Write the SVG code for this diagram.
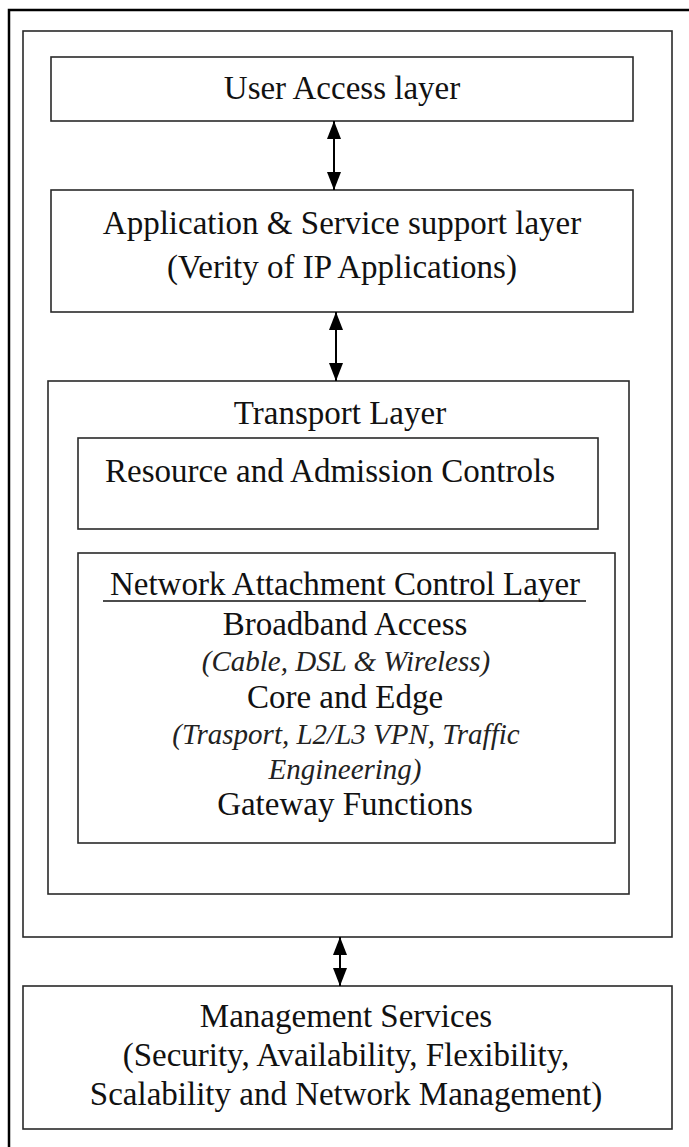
<svg xmlns="http://www.w3.org/2000/svg" width="689" height="1147" viewBox="0 0 689 1147">
<style>
.box{fill:none;stroke:#2a2a2a;stroke-width:1.6}
text{font-family:'Liberation Serif','DejaVu Serif',serif}
.t{font-size:33px;fill:#111;text-anchor:middle}
.i{font-size:29px;font-style:italic;fill:#222;text-anchor:middle}
.ln{stroke:#000;stroke-width:2}
</style>
<defs>
<marker id="ah" viewBox="0 0 10 10" refX="10" refY="5" markerWidth="18" markerHeight="14" markerUnits="userSpaceOnUse" orient="auto-start-reverse" preserveAspectRatio="none">
<path d="M0,0 L10,5 L0,10 Z" fill="#000"/>
</marker>
</defs>
<rect width="689" height="1147" fill="#fff"/>
<path d="M9,1147 V10 H689" fill="none" stroke="#000" stroke-width="2.5"/>
<g id="container"><rect class="box" x="23" y="31" width="649" height="906"/></g>
<g id="user-access">
<rect class="box" x="51" y="57" width="582" height="64"/>
<text class="t" x="342" y="99" font-family="Liberation Serif, serif">User Access layer</text>
</g>
<g id="app-service">
<rect class="box" x="51" y="190" width="582" height="122"/>
<text class="t" x="342" y="234">Application &amp; Service support layer</text>
<text class="t" x="342" y="278">(Verity of IP Applications)</text>
</g>
<g id="transport">
<rect class="box" x="48" y="381" width="581" height="513"/>
<text class="t" x="340" y="424">Transport Layer</text>
</g>
<g id="resource">
<rect class="box" x="78" y="438" width="520" height="91"/>
<text class="t" x="330" y="482">Resource and Admission Controls</text>
</g>
<g id="nacl">
<rect class="box" x="78" y="553" width="537" height="290"/>
<text class="t" x="345" y="595">Network Attachment Control Layer</text>
<line x1="103" y1="601" x2="586" y2="601" stroke="#111" stroke-width="1.5"/>
<text class="t" x="345" y="635">Broadband Access</text>
<text class="i" x="346" y="671">(Cable, DSL &amp; Wireless)</text>
<text class="t" x="345" y="708">Core and Edge</text>
<text class="i" x="346" y="744">(Trasport, L2/L3 VPN, Traffic</text>
<text class="i" x="345" y="779">Engineering)</text>
<text class="t" x="345" y="815">Gateway Functions</text>
</g>
<g id="management">
<rect class="box" x="23" y="986" width="649" height="143"/>
<text class="t" x="346" y="1027">Management Services</text>
<text class="t" x="346" y="1066">(Security, Availability, Flexibility,</text>
<text class="t" x="346" y="1105">Scalability and Network Management)</text>
</g>
<g id="connectors">
<line class="ln" x1="334" y1="121" x2="334" y2="190" marker-start="url(#ah)" marker-end="url(#ah)"/>
<line class="ln" x1="336" y1="312" x2="336" y2="381" marker-start="url(#ah)" marker-end="url(#ah)"/>
<line class="ln" x1="340" y1="937" x2="340" y2="986" marker-start="url(#ah)" marker-end="url(#ah)"/>
</g>
</svg>
